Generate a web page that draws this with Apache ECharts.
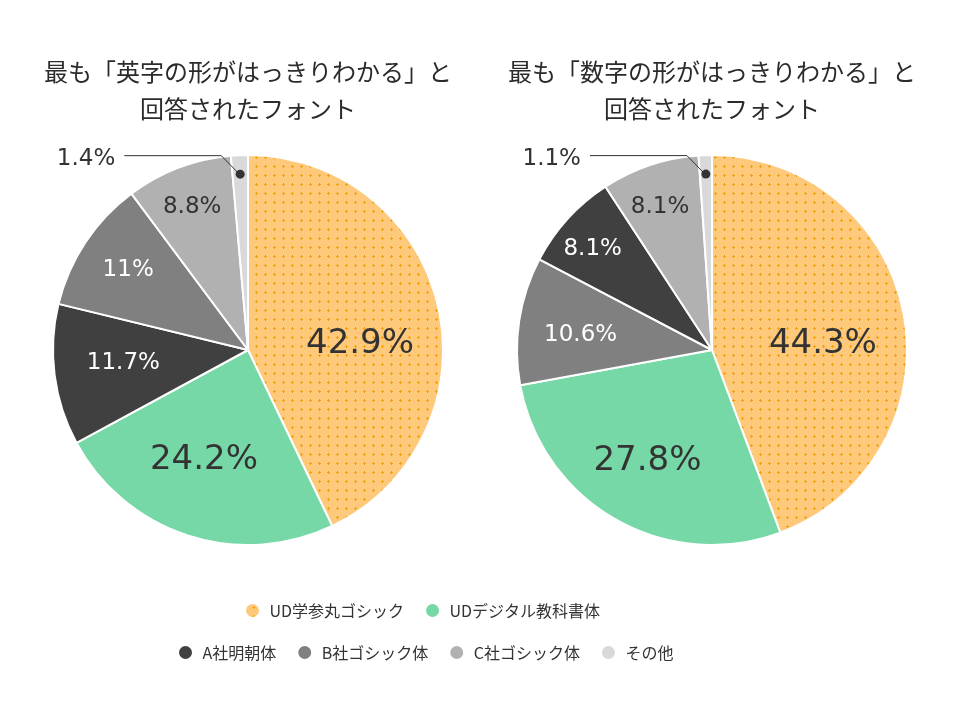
<!DOCTYPE html>
<html>
<head>
<meta charset="utf-8">
<script src="https://cdn.jsdelivr.net/npm/echarts@6/dist/echarts.min.js"></script>
<style>
  html, body { margin: 0; background: #fff; }
  #main { width: 960px; height: 705px; }
</style>
</head>
<body>
<div id="main"></div>
<script>
// ---- data ----
var titleEn = '最も「英字の形がはっきりわかる」と\n回答されたフォント';
var titleNum = '最も「数字の形がはっきりわかる」と\n回答されたフォント';

var legendTop = ['UD学参丸ゴシック', 'UDデジタル教科書体'];
var legendBottom = ['A社明朝体', 'B社ゴシック体', 'C社ゴシック体', 'その他'];

// 英字 (left pie), clockwise from 12 o'clock
var namesEn = ['UD学参丸ゴシック', 'UDデジタル教科書体', 'A社明朝体', 'B社ゴシック体', 'C社ゴシック体', 'その他'];
var valuesEn = [42.9, 24.2, 11.7, 11, 8.8, 1.4];

// 数字 (right pie)
var namesNum = ['UD学参丸ゴシック', 'UDデジタル教科書体', 'B社ゴシック体', 'A社明朝体', 'C社ゴシック体', 'その他'];
var valuesNum = [44.3, 27.8, 10.6, 8.1, 8.1, 1.1];

// ---- styles ----
var dom = document.getElementById('main');
var myChart = echarts.init(dom);

// dotted orange fill
var pat = document.createElement('canvas');
pat.width = 9; pat.height = 9;
var ctx = pat.getContext('2d');
ctx.fillStyle = '#FFC97C';
ctx.fillRect(0, 0, 9, 9);
ctx.fillStyle = '#F2A20C';
ctx.fillRect(4, 3, 1, 3);
ctx.fillRect(3, 4, 3, 1);

var colors = {
  'UD学参丸ゴシック': { image: pat, repeat: 'repeat' },
  'UDデジタル教科書体': '#76D8A7',
  'A社明朝体': '#404040',
  'B社ゴシック体': '#808080',
  'C社ゴシック体': '#B1B1B1',
  'その他': '#D9D9D9'
};
var whiteText = { 'A社明朝体': true, 'B社ゴシック体': true };

var numFont = 'DejaVu Sans';
var jpFont = 'Noto Sans CJK JP';
var R = 195;
var dotR = 175;

// label nudges from the default inside position
var offsetsEn = [[14, 16], [-13, 15], [-25, 0], [-36, -25], [-20, -49], [0, 0]];
var offsetsNum = [[12, 12], [-15, 24], [-32, 0], [-45, -33], [-20, -48], [0, 0]];

function mainSeries(center, names, values, offsets) {
  return {
    type: 'pie',
    z: 2,
    center: center,
    radius: [0, R],
    startAngle: 90,
    clockwise: true,
    avoidLabelOverlap: false,
    silent: true,
    itemStyle: { borderColor: '#fff', borderWidth: 2 },
    labelLine: { show: false },
    data: names.map(function (n, i) {
      return {
        name: n,
        value: values[i],
        itemStyle: { color: colors[n] },
        label: {
          show: i < names.length - 1,
          position: 'inside',
          offset: offsets[i],
          formatter: '{c}%',
          fontFamily: numFont,
          fontSize: i < 2 ? 34 : 23,
          color: whiteText[n] ? '#fff' : '#333'
        }
      };
    })
  };
}

// invisible pie whose only label is the dot inside the thin slice
function dotSeries(center, names, values) {
  return {
    type: 'pie',
    z: 6,
    center: center,
    radius: [dotR - 10, dotR + 10],
    startAngle: 90,
    silent: true,
    avoidLabelOverlap: false,
    itemStyle: { color: 'rgba(0,0,0,0)' },
    labelLine: { show: false },
    data: names.map(function (n, i) {
      return {
        name: n,
        value: values[i],
        label: {
          show: i === names.length - 1,
          position: 'inside',
          offset: [0, 2],
          formatter: '{d|}',
          lineHeight: 9,
          rich: { d: { width: 9, height: 9, lineHeight: 9, borderRadius: 4.5, backgroundColor: '#333' } }
        }
      };
    })
  };
}

// invisible pie for the callout text + leader line
function calloutSeries(center, names, values) {
  var last = names.length - 1;
  return {
    type: 'pie',
    z: 5,
    center: center,
    radius: [0, dotR],
    startAngle: 90,
    silent: true,
    avoidLabelOverlap: false,
    itemStyle: { color: 'rgba(0,0,0,0)' },
    labelLine: {
      show: true, length: 10, length2: 60,
      minTurnAngle: 0, maxSurfaceAngle: 180,
      lineStyle: { color: '#333', width: 1 }
    },
    labelLayout: function (p) {
      if (p.dataIndex !== last || !p.labelLinePoints) return {};
      var p0 = p.labelLinePoints[0];
      var p1 = [p0[0] - 19, p0[1] - 19.5];
      var p2 = [p1[0] - 97, p1[1]];
      return {
        x: p2[0] - 9,
        y: p2[1] + 3,
        align: 'right',
        verticalAlign: 'middle',
        labelLinePoints: [p0, p1, p2]
      };
    },
    data: names.map(function (n, i) {
      return {
        name: n,
        value: values[i],
        label: {
          show: i === last,
          position: 'outside',
          formatter: '{c}%',
          fontFamily: numFont,
          fontSize: 23,
          color: '#333'
        },
        labelLine: { show: i === last }
      };
    })
  };
}

function legend(names, left, top) {
  return {
    data: names,
    left: left,
    top: top,
    orient: 'horizontal',
    icon: 'circle',
    itemWidth: 24,
    itemHeight: 15,
    itemGap: 20,
    padding: 0,
    selectedMode: false,
    textStyle: { fontSize: 16, color: '#333', fontFamily: jpFont }
  };
}

function title(text, left) {
  return {
    text: text,
    left: left,
    top: 53,
    padding: 0,
    textAlign: 'center',
    textStyle: { fontSize: 24, fontWeight: 'normal', color: '#2b2b2b', fontFamily: jpFont, lineHeight: 37 }
  };
}

option = {
  backgroundColor: '#fff',
  animation: false,
  title: [title(titleEn, 248), title(titleNum, 712)],
  legend: [legend(legendTop, 244, 602), legend(legendBottom, 177, 644)],
  series: [
    mainSeries([248, 350], namesEn, valuesEn, offsetsEn),
    mainSeries([712, 350], namesNum, valuesNum, offsetsNum),
    calloutSeries([248, 350], namesEn, valuesEn),
    calloutSeries([712, 350], namesNum, valuesNum),
    dotSeries([248, 350], namesEn, valuesEn),
    dotSeries([712, 350], namesNum, valuesNum)
  ]
};

if (option && typeof option === 'object') {
  myChart.setOption(option, true);
}
</script>
</body>
</html>
